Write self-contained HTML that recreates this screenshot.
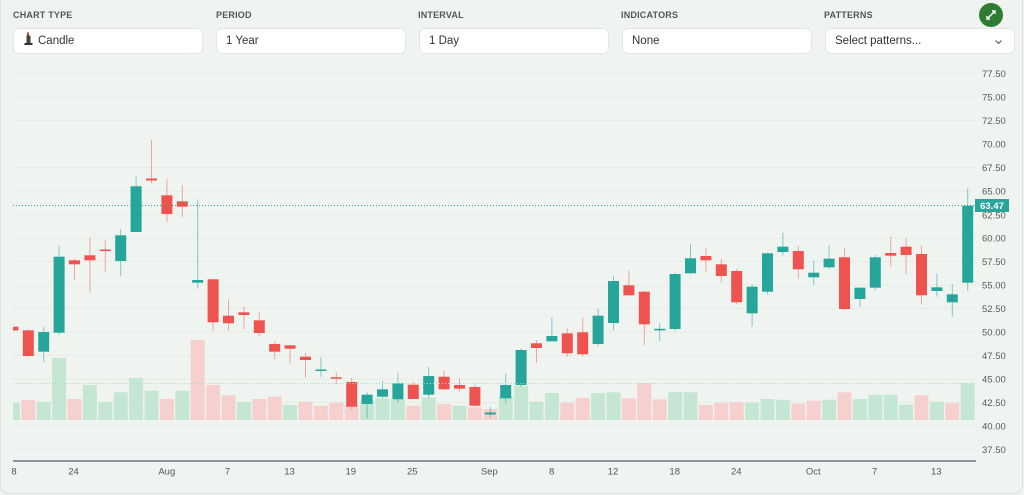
<!DOCTYPE html>
<html><head><meta charset="utf-8">
<style>
html,body{margin:0;padding:0;width:1024px;height:495px;overflow:hidden;background:#f0f4f0;font-family:"Liberation Sans",Arial,sans-serif;}
.card{position:absolute;left:0;top:-10px;width:1021px;height:502px;border:1px solid #dde2dd;border-radius:8px;}
.lbl{position:absolute;top:10px;font-size:9px;font-weight:bold;color:#555;letter-spacing:.2px;}
.box{position:absolute;top:28px;height:26px;background:#fff;border:1px solid #e3e7e3;border-radius:6px;box-sizing:border-box;font-size:11.5px;color:#333;line-height:25px;padding-left:9px;}
svg{position:absolute;left:0;top:0;}
.g{fill:#26a69a}.r{fill:#ef5350}.wg{fill:#26a69a;opacity:.55}.wr{fill:#ef5350;opacity:.5}
.vg{fill:#c5e6d3}.vr{fill:#f6d0cf}
.yt{font-size:9.5px;fill:#5a5a5a;font-family:"Liberation Sans",Arial,sans-serif}
.xt{font-size:9.5px;fill:#555;font-family:"Liberation Sans",Arial,sans-serif;text-anchor:middle}
</style></head><body>
<div class="card"></div>
<div class="lbl" style="left:13px">CHART TYPE</div>
<div class="lbl" style="left:216px">PERIOD</div>
<div class="lbl" style="left:418px">INTERVAL</div>
<div class="lbl" style="left:621px">INDICATORS</div>
<div class="lbl" style="left:824px">PATTERNS</div>
<div class="box" style="left:13px;width:190px;padding-left:10px"><svg width="10" height="14" style="position:relative;display:inline-block;vertical-align:-2px;margin-right:4px"><rect x="3" y="0.5" width="2" height="3" fill="#c0392b"/><rect x="2.5" y="3.5" width="4" height="8" fill="#444"/><rect x="0.5" y="11" width="8" height="2" fill="#333"/></svg>Candle</div>
<div class="box" style="left:216px;width:190px">1 Year</div>
<div class="box" style="left:419px;width:190px">1 Day</div>
<div class="box" style="left:622px;width:190px">None</div>
<div class="box" style="left:825px;width:190px">Select patterns...</div>
<svg width="1024" height="495" viewBox="0 0 1024 495">
<defs><clipPath id="pc"><rect x="13" y="60" width="963" height="401"/></clipPath></defs>
<circle cx="991" cy="15" r="12" fill="#2e7d32"/>
<g stroke="#fff" stroke-width="1.4" fill="none"><path d="M987 19 L995 11"/><path d="M992 11 H995 V14"/><path d="M987 16 V19 H990"/></g>
<path d="M995.5 40.5 L998.5 43.5 L1001.5 40.5" stroke="#555" stroke-width="1.1" fill="none"/>
<g stroke="#e6ebe6" stroke-width="1">
<line x1="13" x2="976" y1="73.5" y2="73.5"/><line x1="13" x2="976" y1="97" y2="97"/><line x1="13" x2="976" y1="120.5" y2="120.5"/><line x1="13" x2="976" y1="144" y2="144"/><line x1="13" x2="976" y1="167.5" y2="167.5"/><line x1="13" x2="976" y1="191" y2="191"/><line x1="13" x2="976" y1="214.5" y2="214.5"/><line x1="13" x2="976" y1="238" y2="238"/><line x1="13" x2="976" y1="261.5" y2="261.5"/><line x1="13" x2="976" y1="285" y2="285"/><line x1="13" x2="976" y1="308.5" y2="308.5"/><line x1="13" x2="976" y1="332" y2="332"/><line x1="13" x2="976" y1="355.5" y2="355.5"/><line x1="13" x2="976" y1="379" y2="379"/><line x1="13" x2="976" y1="402.5" y2="402.5"/><line x1="13" x2="976" y1="426" y2="426"/><line x1="13" x2="976" y1="449.5" y2="449.5"/>
</g>
<g clip-path="url(#pc)">
<g transform="translate(12.9 0)"><rect class="vg" x="-7" y="402.7" width="14" height="17.3"/><rect class="r" x="-5.5" y="326.7" width="11" height="3.8"/></g>
<g transform="translate(28.3 0)"><rect class="vr" x="-7" y="400" width="14" height="20"/><rect class="wr" x="-.5" y="329.3" width="1" height="27.4"/><rect class="r" x="-5.5" y="330.3" width="11" height="25.7"/></g>
<g transform="translate(43.7 0)"><rect class="vg" x="-7" y="401.7" width="14" height="18.3"/><rect class="wg" x="-.5" y="326.7" width="1" height="35"/><rect class="g" x="-5.5" y="332" width="11" height="19.7"/></g>
<g transform="translate(59.1 0)"><rect class="vg" x="-7" y="358" width="14" height="62"/><rect class="wg" x="-.5" y="246" width="1" height="89"/><rect class="g" x="-5.5" y="256.7" width="11" height="76"/></g>
<g transform="translate(74.5 0)"><rect class="vr" x="-7" y="399" width="14" height="21"/><rect class="wr" x="-.5" y="258.3" width="1" height="21"/><rect class="r" x="-5.5" y="260.3" width="11" height="4"/></g>
<g transform="translate(89.9 0)"><rect class="vg" x="-7" y="385" width="14" height="35"/><rect class="wr" x="-.5" y="237.7" width="1" height="54.6"/><rect class="r" x="-5.5" y="255.3" width="11" height="5"/></g>
<g transform="translate(105.3 0)"><rect class="vg" x="-7" y="402" width="14" height="18"/><rect class="wr" x="-.5" y="240" width="1" height="31.7"/><rect class="r" x="-5.5" y="249.5" width="11" height="1.6"/></g>
<g transform="translate(120.7 0)"><rect class="vg" x="-7" y="392.3" width="14" height="27.7"/><rect class="wg" x="-.5" y="229" width="1" height="46.7"/><rect class="g" x="-5.5" y="235.3" width="11" height="25.7"/></g>
<g transform="translate(136.1 0)"><rect class="vg" x="-7" y="378" width="14" height="42"/><rect class="wg" x="-.5" y="176.7" width="1" height="55.3"/><rect class="g" x="-5.5" y="186.3" width="11" height="45.7"/></g>
<g transform="translate(151.5 0)"><rect class="vg" x="-7" y="390.7" width="14" height="29.3"/><rect class="wr" x="-.5" y="140" width="1" height="43.3"/><rect class="r" x="-5.5" y="178.5" width="11" height="2"/></g>
<g transform="translate(166.9 0)"><rect class="vr" x="-7" y="399" width="14" height="21"/><rect class="wr" x="-.5" y="179.3" width="1" height="43"/><rect class="r" x="-5.5" y="195.3" width="11" height="18.7"/></g>
<g transform="translate(182.3 0)"><rect class="vg" x="-7" y="390.7" width="14" height="29.3"/><rect class="wr" x="-.5" y="185.3" width="1" height="32"/><rect class="r" x="-5.5" y="201.3" width="11" height="5.4"/></g>
<g transform="translate(197.7 0)"><rect class="vr" x="-7" y="340" width="14" height="80"/><rect class="wg" x="-.5" y="199.3" width="1" height="89.4"/><rect class="g" x="-5.5" y="280" width="11" height="2.7"/></g>
<g transform="translate(213.1 0)"><rect class="vr" x="-7" y="385" width="14" height="35"/><rect class="wr" x="-.5" y="278.7" width="1" height="52.3"/><rect class="r" x="-5.5" y="279.3" width="11" height="43"/></g>
<g transform="translate(228.5 0)"><rect class="vr" x="-7" y="395.3" width="14" height="24.7"/><rect class="wr" x="-.5" y="299.3" width="1" height="31"/><rect class="r" x="-5.5" y="315.7" width="11" height="7.6"/></g>
<g transform="translate(243.9 0)"><rect class="vg" x="-7" y="402" width="14" height="18"/><rect class="wr" x="-.5" y="306.7" width="1" height="22.3"/><rect class="r" x="-5.5" y="312.3" width="11" height="2.7"/></g>
<g transform="translate(259.3 0)"><rect class="vr" x="-7" y="399" width="14" height="21"/><rect class="wr" x="-.5" y="312.3" width="1" height="24.4"/><rect class="r" x="-5.5" y="320.3" width="11" height="12.7"/></g>
<g transform="translate(274.7 0)"><rect class="vr" x="-7" y="396.7" width="14" height="23.3"/><rect class="wr" x="-.5" y="341" width="1" height="18"/><rect class="r" x="-5.5" y="344" width="11" height="7.7"/></g>
<g transform="translate(290.1 0)"><rect class="vg" x="-7" y="405" width="14" height="15"/><rect class="wr" x="-.5" y="345" width="1" height="18.3"/><rect class="r" x="-5.5" y="345.3" width="11" height="3.4"/></g>
<g transform="translate(305.5 0)"><rect class="vr" x="-7" y="401.7" width="14" height="18.3"/><rect class="wr" x="-.5" y="353.3" width="1" height="24"/><rect class="r" x="-5.5" y="356.7" width="11" height="3.3"/></g>
<g transform="translate(320.9 0)"><rect class="vr" x="-7" y="405.7" width="14" height="14.3"/><rect class="wg" x="-.5" y="357.3" width="1" height="19.4"/><rect class="g" x="-5.5" y="369.5" width="11" height="1.5"/></g>
<g transform="translate(336.3 0)"><rect class="vr" x="-7" y="402.7" width="14" height="17.3"/><rect class="wr" x="-.5" y="372.3" width="1" height="11.7"/><rect class="r" x="-5.5" y="377.3" width="11" height="1.5"/></g>
<g transform="translate(351.7 0)"><rect class="vr" x="-7" y="405" width="14" height="15"/><rect class="wr" x="-.5" y="377.7" width="1" height="31.6"/><rect class="r" x="-5.5" y="382" width="11" height="24.7"/></g>
<g transform="translate(367.1 0)"><rect class="vg" x="-7" y="400.7" width="14" height="19.3"/><rect class="wg" x="-.5" y="392.3" width="1" height="26"/><rect class="g" x="-5.5" y="394.7" width="11" height="9.3"/></g>
<g transform="translate(382.5 0)"><rect class="vg" x="-7" y="398.3" width="14" height="21.7"/><rect class="wg" x="-.5" y="380.7" width="1" height="17.6"/><rect class="g" x="-5.5" y="389.3" width="11" height="7.4"/></g>
<g transform="translate(397.9 0)"><rect class="vg" x="-7" y="399.3" width="14" height="20.7"/><rect class="wg" x="-.5" y="372.7" width="1" height="30"/><rect class="g" x="-5.5" y="383.3" width="11" height="16"/></g>
<g transform="translate(413.3 0)"><rect class="vr" x="-7" y="405.7" width="14" height="14.3"/><rect class="wr" x="-.5" y="381.7" width="1" height="17.6"/><rect class="r" x="-5.5" y="384.7" width="11" height="14.3"/></g>
<g transform="translate(428.7 0)"><rect class="vg" x="-7" y="397.7" width="14" height="22.3"/><rect class="wg" x="-.5" y="367" width="1" height="31.3"/><rect class="g" x="-5.5" y="376" width="11" height="18.7"/></g>
<g transform="translate(444.1 0)"><rect class="vr" x="-7" y="404" width="14" height="16"/><rect class="wr" x="-.5" y="370.7" width="1" height="19.3"/><rect class="r" x="-5.5" y="376.7" width="11" height="12.6"/></g>
<g transform="translate(459.5 0)"><rect class="vg" x="-7" y="405.7" width="14" height="14.3"/><rect class="wr" x="-.5" y="378.3" width="1" height="13.4"/><rect class="r" x="-5.5" y="385" width="11" height="3.7"/></g>
<g transform="translate(474.9 0)"><rect class="vr" x="-7" y="407.3" width="14" height="12.7"/><rect class="wr" x="-.5" y="384.3" width="1" height="22.4"/><rect class="r" x="-5.5" y="387" width="11" height="18.7"/></g>
<g transform="translate(490.3 0)"><rect class="vr" x="-7" y="409" width="14" height="11"/><rect class="wg" x="-.5" y="406.7" width="1" height="11.3"/><rect class="g" x="-5.5" y="412.5" width="11" height="2"/></g>
<g transform="translate(505.7 0)"><rect class="vg" x="-7" y="396" width="14" height="24"/><rect class="wg" x="-.5" y="373.3" width="1" height="30"/><rect class="g" x="-5.5" y="385" width="11" height="13.3"/></g>
<g transform="translate(521.1 0)"><rect class="vg" x="-7" y="385.7" width="14" height="34.3"/><rect class="wg" x="-.5" y="348.3" width="1" height="38.4"/><rect class="g" x="-5.5" y="350" width="11" height="35"/></g>
<g transform="translate(536.5 0)"><rect class="vg" x="-7" y="401.7" width="14" height="18.3"/><rect class="wr" x="-.5" y="340" width="1" height="22.7"/><rect class="r" x="-5.5" y="343.3" width="11" height="4.7"/></g>
<g transform="translate(551.9 0)"><rect class="vg" x="-7" y="393" width="14" height="27"/><rect class="wg" x="-.5" y="317.3" width="1" height="24"/><rect class="g" x="-5.5" y="336" width="11" height="5.3"/></g>
<g transform="translate(567.3 0)"><rect class="vr" x="-7" y="402.7" width="14" height="17.3"/><rect class="wr" x="-.5" y="328.3" width="1" height="28.4"/><rect class="r" x="-5.5" y="333.3" width="11" height="20"/></g>
<g transform="translate(582.7 0)"><rect class="vr" x="-7" y="397.7" width="14" height="22.3"/><rect class="wr" x="-.5" y="318.3" width="1" height="38.4"/><rect class="r" x="-5.5" y="332.3" width="11" height="22"/></g>
<g transform="translate(598.1 0)"><rect class="vg" x="-7" y="393" width="14" height="27"/><rect class="wg" x="-.5" y="308.7" width="1" height="37.3"/><rect class="g" x="-5.5" y="315.7" width="11" height="28.3"/></g>
<g transform="translate(613.5 0)"><rect class="vg" x="-7" y="392.3" width="14" height="27.7"/><rect class="wg" x="-.5" y="276" width="1" height="54"/><rect class="g" x="-5.5" y="281" width="11" height="42"/></g>
<g transform="translate(628.9 0)"><rect class="vr" x="-7" y="398.3" width="14" height="21.7"/><rect class="wr" x="-.5" y="270.7" width="1" height="26"/><rect class="r" x="-5.5" y="285.3" width="11" height="10"/></g>
<g transform="translate(644.3 0)"><rect class="vr" x="-7" y="383" width="14" height="37"/><rect class="wr" x="-.5" y="291" width="1" height="54"/><rect class="r" x="-5.5" y="291.7" width="11" height="32.6"/></g>
<g transform="translate(659.7 0)"><rect class="vr" x="-7" y="399.3" width="14" height="20.7"/><rect class="wg" x="-.5" y="323.3" width="1" height="17.7"/><rect class="g" x="-5.5" y="328.8" width="11" height="1.6"/></g>
<g transform="translate(675.1 0)"><rect class="vg" x="-7" y="392" width="14" height="28"/><rect class="wg" x="-.5" y="272.7" width="1" height="58.3"/><rect class="g" x="-5.5" y="274" width="11" height="55"/></g>
<g transform="translate(690.5 0)"><rect class="vg" x="-7" y="392.3" width="14" height="27.7"/><rect class="wg" x="-.5" y="244" width="1" height="30.3"/><rect class="g" x="-5.5" y="258.3" width="11" height="15"/></g>
<g transform="translate(705.9 0)"><rect class="vr" x="-7" y="405" width="14" height="15"/><rect class="wr" x="-.5" y="248.3" width="1" height="24.4"/><rect class="r" x="-5.5" y="256" width="11" height="4.3"/></g>
<g transform="translate(721.3 0)"><rect class="vr" x="-7" y="402.7" width="14" height="17.3"/><rect class="wr" x="-.5" y="259" width="1" height="23.7"/><rect class="r" x="-5.5" y="264.3" width="11" height="11.7"/></g>
<g transform="translate(736.7 0)"><rect class="vr" x="-7" y="402" width="14" height="18"/><rect class="wr" x="-.5" y="269" width="1" height="35.3"/><rect class="r" x="-5.5" y="271" width="11" height="31.3"/></g>
<g transform="translate(752.1 0)"><rect class="vg" x="-7" y="402.7" width="14" height="17.3"/><rect class="wg" x="-.5" y="284.3" width="1" height="42.4"/><rect class="g" x="-5.5" y="286.7" width="11" height="26.6"/></g>
<g transform="translate(767.5 0)"><rect class="vg" x="-7" y="399" width="14" height="21"/><rect class="wg" x="-.5" y="252.7" width="1" height="41.6"/><rect class="g" x="-5.5" y="253.3" width="11" height="38.4"/></g>
<g transform="translate(782.9 0)"><rect class="vg" x="-7" y="399.7" width="14" height="20.3"/><rect class="wg" x="-.5" y="232.7" width="1" height="22.6"/><rect class="g" x="-5.5" y="246.7" width="11" height="5.3"/></g>
<g transform="translate(798.3 0)"><rect class="vr" x="-7" y="403.7" width="14" height="16.3"/><rect class="wr" x="-.5" y="246" width="1" height="32.7"/><rect class="r" x="-5.5" y="251" width="11" height="18.3"/></g>
<g transform="translate(813.7 0)"><rect class="vr" x="-7" y="400.7" width="14" height="19.3"/><rect class="wg" x="-.5" y="260.7" width="1" height="24.6"/><rect class="g" x="-5.5" y="272.7" width="11" height="4.6"/></g>
<g transform="translate(829.1 0)"><rect class="vg" x="-7" y="399.7" width="14" height="20.3"/><rect class="wg" x="-.5" y="245.3" width="1" height="24"/><rect class="g" x="-5.5" y="258.7" width="11" height="8.6"/></g>
<g transform="translate(844.5 0)"><rect class="vr" x="-7" y="392.3" width="14" height="27.7"/><rect class="wr" x="-.5" y="248" width="1" height="61.7"/><rect class="r" x="-5.5" y="257.3" width="11" height="51.7"/></g>
<g transform="translate(859.9 0)"><rect class="vg" x="-7" y="399" width="14" height="21"/><rect class="wg" x="-.5" y="287.3" width="1" height="20"/><rect class="g" x="-5.5" y="287.7" width="11" height="11.3"/></g>
<g transform="translate(875.3 0)"><rect class="vg" x="-7" y="394.7" width="14" height="25.3"/><rect class="wg" x="-.5" y="255" width="1" height="35"/><rect class="g" x="-5.5" y="257.3" width="11" height="30.4"/></g>
<g transform="translate(890.7 0)"><rect class="vg" x="-7" y="394.7" width="14" height="25.3"/><rect class="wr" x="-.5" y="236.7" width="1" height="30"/><rect class="r" x="-5.5" y="253" width="11" height="2.7"/></g>
<g transform="translate(906.1 0)"><rect class="vg" x="-7" y="404.7" width="14" height="15.3"/><rect class="wr" x="-.5" y="238" width="1" height="36"/><rect class="r" x="-5.5" y="246.7" width="11" height="8.3"/></g>
<g transform="translate(921.5 0)"><rect class="vr" x="-7" y="395.3" width="14" height="24.7"/><rect class="wr" x="-.5" y="246" width="1" height="58.3"/><rect class="r" x="-5.5" y="254" width="11" height="41.3"/></g>
<g transform="translate(936.9 0)"><rect class="vg" x="-7" y="401.7" width="14" height="18.3"/><rect class="wg" x="-.5" y="273.3" width="1" height="23.4"/><rect class="g" x="-5.5" y="287.3" width="11" height="3.7"/></g>
<g transform="translate(952.3 0)"><rect class="vr" x="-7" y="403.3" width="14" height="16.7"/><rect class="wg" x="-.5" y="284" width="1" height="32.7"/><rect class="g" x="-5.5" y="294.3" width="11" height="8"/></g>
<g transform="translate(967.7 0)"><rect class="vg" x="-7" y="383.3" width="14" height="36.7"/><rect class="wg" x="-.5" y="188.3" width="1" height="102.7"/><rect class="g" x="-5.5" y="205.7" width="11" height="77"/></g>
<line x1="13" x2="976" y1="205.5" y2="205.5" stroke="#26a69a" stroke-width="1" stroke-dasharray="1 2"/>
<line x1="13" x2="976" y1="383.5" y2="383.5" stroke="#a9d9c0" stroke-width="1" stroke-dasharray="1 2"/>
</g>
<line x1="13" x2="976" y1="461" y2="461" stroke="#545a68" stroke-width="1.3"/>
<g class="yt">
<text x="982" y="77">77.50</text><text x="982" y="100.5">75.00</text><text x="982" y="124">72.50</text><text x="982" y="147.5">70.00</text><text x="982" y="171">67.50</text><text x="982" y="194.5">65.00</text><text x="982" y="218.5">62.50</text><text x="982" y="241.5">60.00</text><text x="982" y="265">57.50</text><text x="982" y="288.5">55.00</text><text x="982" y="312">52.50</text><text x="982" y="335.5">50.00</text><text x="982" y="359">47.50</text><text x="982" y="382.5">45.00</text><text x="982" y="406">42.50</text><text x="982" y="429.5">40.00</text><text x="982" y="453">37.50</text>
</g>
<rect x="975" y="199" width="34" height="13" fill="#26a69a"/>
<text x="992" y="209" font-size="9.5" fill="#fff" text-anchor="middle" font-weight="bold" font-family="Liberation Sans,Arial,sans-serif">63.47</text>
<g class="xt">
<text x="14" y="474.5">8</text><text x="73.5" y="474.5">24</text><text x="166.8" y="474.5">Aug</text><text x="227.5" y="474.5">7</text><text x="289.5" y="474.5">13</text><text x="350.8" y="474.5">19</text><text x="412.3" y="474.5">25</text><text x="489.3" y="474.5">Sep</text><text x="551.7" y="474.5">8</text><text x="613" y="474.5">12</text><text x="674.7" y="474.5">18</text><text x="736.3" y="474.5">24</text><text x="813.3" y="474.5">Oct</text><text x="874.7" y="474.5">7</text><text x="936.3" y="474.5">13</text>
</g>
</svg>
</body></html>
